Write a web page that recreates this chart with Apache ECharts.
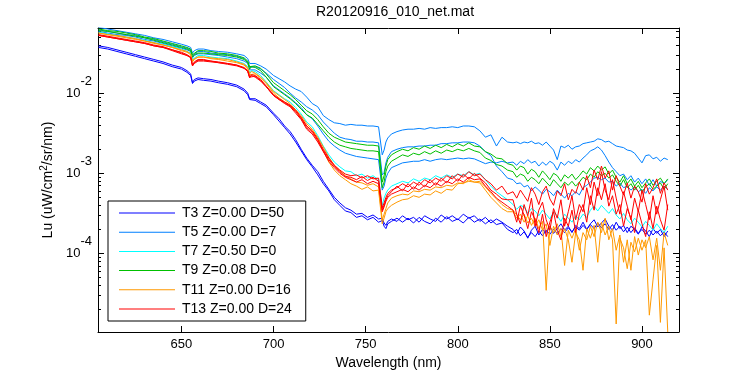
<!DOCTYPE html>
<html><head><meta charset="utf-8">
<script src="https://cdn.jsdelivr.net/npm/echarts@6/dist/echarts.min.js"></script>
<style>html,body{margin:0;padding:0;background:#fff}#c{width:750px;height:375px}</style>
</head><body><div id="c"></div>
<script>
// Wavelength grid (nm)
const wl = [605,610,615,620,625,630,635,640,645,650,
653,655,656,657,659,662,666,670,675,680,684,686,687,688,690,693,696,700,
703,706,709,712,715,718,721,724,727,730,733,736,739,742,745,748,751,754,757,
759,760,761,762,764,
767,770,773,776,779,782,785,788,791,794,797,800,803,806,809,812,815,818,821,824,827,
830,832,834,836,838,840,842,844,846,848,850,852,854,856,858,860,862,864,866,868,870,872,874,876,878,880,882,884,886,888,890,892,894,896,898,900,902,904,906,908,910,912,914];

// log10 of Lu (uW/cm^2/sr/nm)
const T3a = [-1.41,-1.43,-1.46,-1.49,-1.52,-1.55,-1.58,-1.61,-1.65,-1.68,
-1.72,-1.76,-1.87,-1.83,-1.81,-1.82,-1.83,-1.85,-1.87,-1.90,-1.95,-2.00,-2.07,-2.06,-2.07,-2.11,-2.15,-2.25,
-2.32,-2.41,-2.48,-2.58,-2.70,-2.81,-2.90,-2.98,-3.10,-3.20,-3.30,-3.37,-3.43,-3.46,-3.51,-3.50,-3.55,-3.52,-3.57,
-3.56,-3.62,-3.65,-3.60,-3.57,
-3.60,-3.53,-3.58,-3.55,-3.61,-3.53,-3.57,-3.60,-3.52,-3.57,-3.53,-3.58,-3.51,-3.56,-3.53,-3.60,-3.55,-3.62,-3.57,-3.61,-3.66,
-3.70,-3.76,-3.67,-3.72,-3.81,-3.71,-3.66,-3.77,-3.70,-3.74,-3.66,-3.75,-3.69,-3.63,-3.71,-3.66,-3.74,-3.65,-3.69,-3.61,-3.70,-3.63,-3.58,-3.67,-3.62,-3.57,-3.66,-3.71,-3.61,-3.69,-3.65,-3.74,-3.66,-3.70,-3.76,-3.67,-3.72,-3.79,-3.69,-3.75,-3.70,-3.79,-3.72];
const T3b = [-1.43,-1.45,-1.48,-1.51,-1.54,-1.57,-1.60,-1.63,-1.67,-1.70,
-1.74,-1.78,-1.88,-1.85,-1.83,-1.84,-1.85,-1.87,-1.89,-1.92,-1.97,-2.02,-2.08,-2.08,-2.09,-2.13,-2.17,-2.27,
-2.35,-2.43,-2.51,-2.61,-2.72,-2.83,-2.92,-3.02,-3.13,-3.22,-3.33,-3.40,-3.47,-3.49,-3.55,-3.53,-3.58,-3.55,-3.61,
-3.59,-3.66,-3.69,-3.63,-3.60,
-3.56,-3.61,-3.56,-3.62,-3.55,-3.60,-3.63,-3.56,-3.61,-3.54,-3.60,-3.57,-3.62,-3.55,-3.61,-3.57,-3.63,-3.58,-3.64,-3.62,-3.70,
-3.74,-3.70,-3.78,-3.73,-3.80,-3.74,-3.79,-3.72,-3.78,-3.71,-3.76,-3.70,-3.75,-3.69,-3.74,-3.68,-3.73,-3.67,-3.71,-3.65,-3.70,-3.64,-3.69,-3.62,-3.68,-3.63,-3.70,-3.64,-3.71,-3.66,-3.73,-3.67,-3.74,-3.68,-3.75,-3.70,-3.76,-3.71,-3.77,-3.72,-3.78,-3.73,-3.79];
const T5a = [-1.18,-1.20,-1.22,-1.24,-1.26,-1.28,-1.31,-1.33,-1.36,-1.39,
-1.41,-1.43,-1.50,-1.47,-1.45,-1.45,-1.47,-1.48,-1.49,-1.51,-1.53,-1.57,-1.63,-1.62,-1.63,-1.66,-1.70,-1.78,
-1.82,-1.86,-1.91,-1.95,-1.98,-2.05,-2.13,-2.17,-2.28,-2.33,-2.37,-2.38,-2.40,-2.39,-2.40,-2.40,-2.41,-2.41,-2.42,
-2.77,-2.71,-2.61,-2.56,-2.51,
-2.48,-2.46,-2.45,-2.45,-2.44,-2.45,-2.43,-2.44,-2.43,-2.43,-2.42,-2.43,-2.41,-2.41,-2.42,-2.47,-2.55,-2.52,-2.66,-2.55,-2.61,
-2.62,-2.61,-2.63,-2.61,-2.62,-2.60,-2.63,-2.62,-2.65,-2.61,-2.66,-2.71,-2.83,-2.66,-2.68,-2.65,-2.70,-2.67,-2.66,-2.63,-2.62,-2.61,-2.60,-2.57,-2.58,-2.61,-2.60,-2.63,-2.66,-2.67,-2.68,-2.71,-2.72,-2.75,-2.81,-2.87,-2.78,-2.77,-2.82,-2.80,-2.85,-2.81,-2.83];
const T5c = [-1.21,-1.23,-1.25,-1.27,-1.28,-1.31,-1.33,-1.36,-1.39,-1.42,
-1.44,-1.46,-1.53,-1.51,-1.48,-1.48,-1.50,-1.51,-1.52,-1.54,-1.57,-1.61,-1.68,-1.66,-1.67,-1.70,-1.75,-1.83,
-1.88,-1.93,-2.00,-2.06,-2.11,-2.17,-2.21,-2.27,-2.36,-2.43,-2.50,-2.55,-2.57,-2.58,-2.60,-2.60,-2.61,-2.61,-2.62,
-3.02,-2.99,-2.87,-2.80,-2.73,
-2.70,-2.68,-2.67,-2.67,-2.66,-2.66,-2.65,-2.65,-2.63,-2.63,-2.62,-2.62,-2.61,-2.61,-2.62,-2.66,-2.73,-2.78,-2.91,-2.98,-3.06,
-3.08,-3.13,-3.12,-3.17,-3.15,-3.22,-3.17,-3.21,-3.26,-3.20,-3.23,-3.28,-3.21,-3.26,-3.31,-3.25,-3.28,-3.23,-3.27,-3.18,-3.15,-3.11,-3.06,-3.05,-3.08,-3.06,-3.11,-3.10,-3.16,-3.12,-3.18,-3.16,-3.21,-3.17,-3.23,-3.20,-3.25,-3.18,-3.22,-3.17,-3.21,-3.16,-3.20];
const T5b = [-1.23,-1.25,-1.27,-1.28,-1.30,-1.33,-1.35,-1.38,-1.41,-1.44,
-1.46,-1.48,-1.56,-1.53,-1.51,-1.51,-1.52,-1.53,-1.55,-1.57,-1.60,-1.63,-1.71,-1.70,-1.71,-1.75,-1.80,-1.91,
-1.96,-2.01,-2.06,-2.12,-2.18,-2.27,-2.32,-2.41,-2.51,-2.60,-2.66,-2.71,-2.75,-2.77,-2.79,-2.80,-2.81,-2.82,-2.83,
-3.21,-3.16,-3.06,-3.00,-2.93,
-2.90,-2.87,-2.86,-2.85,-2.85,-2.83,-2.85,-2.83,-2.82,-2.83,-2.82,-2.81,-2.82,-2.81,-2.82,-2.85,-2.88,-2.86,-2.87,-2.85,-2.87,
-2.86,-2.90,-2.85,-2.88,-2.83,-2.87,-2.85,-2.91,-2.86,-2.90,-2.85,-2.88,-2.96,-2.86,-2.90,-2.85,-2.88,-2.83,-2.86,-2.81,-2.77,-2.72,-2.70,-2.67,-2.71,-2.78,-2.86,-2.93,-2.98,-3.03,-3.01,-3.08,-3.03,-3.11,-3.06,-3.13,-3.07,-3.15,-3.08,-3.16,-3.10,-3.13,-3.08];
const T7 = [-1.24,-1.26,-1.28,-1.30,-1.32,-1.34,-1.37,-1.39,-1.42,-1.45,
-1.48,-1.50,-1.58,-1.56,-1.53,-1.53,-1.55,-1.56,-1.57,-1.60,-1.63,-1.67,-1.75,-1.72,-1.73,-1.78,-1.86,-1.97,
-2.02,-2.07,-2.11,-2.18,-2.26,-2.36,-2.42,-2.53,-2.66,-2.77,-2.86,-2.92,-2.97,-2.98,-3.03,-3.01,-3.06,-3.03,-3.08,
-3.40,-3.31,-3.25,-3.21,-3.16,
-3.13,-3.10,-3.12,-3.07,-3.10,-3.06,-3.08,-3.03,-3.06,-3.02,-3.05,-3.01,-3.03,-2.98,-3.02,-3.00,-3.08,-3.16,-3.23,-3.28,-3.33,
-3.39,-3.45,-3.40,-3.42,-3.50,-3.44,-3.47,-3.53,-3.46,-3.51,-3.57,-3.48,-3.53,-3.60,-3.51,-3.56,-3.61,-3.53,-3.58,-3.51,-3.55,-3.46,-3.41,-3.47,-3.40,-3.45,-3.50,-3.44,-3.52,-3.57,-3.50,-3.58,-3.63,-3.56,-3.61,-3.67,-3.60,-3.65,-3.71,-3.63,-3.69,-3.74,-3.66];
const T9a = [-1.20,-1.22,-1.23,-1.25,-1.27,-1.30,-1.32,-1.35,-1.38,-1.41,
-1.43,-1.45,-1.52,-1.50,-1.47,-1.47,-1.48,-1.50,-1.51,-1.53,-1.56,-1.60,-1.67,-1.65,-1.66,-1.69,-1.76,-1.87,
-1.92,-1.97,-2.02,-2.08,-2.15,-2.22,-2.26,-2.33,-2.42,-2.50,-2.55,-2.58,-2.61,-2.62,-2.63,-2.64,-2.65,-2.65,-2.66,
-3.11,-3.03,-2.91,-2.83,-2.77,
-2.73,-2.70,-2.72,-2.68,-2.70,-2.66,-2.69,-2.65,-2.68,-2.64,-2.67,-2.63,-2.66,-2.62,-2.66,-2.67,-2.73,-2.76,-2.81,-2.82,-2.88,
-2.90,-2.96,-2.91,-2.93,-3.01,-2.95,-2.98,-3.05,-2.97,-3.02,-3.08,-3.00,-3.03,-3.10,-3.02,-3.06,-3.01,-3.08,-3.03,-2.97,-3.01,-2.93,-2.97,-2.91,-2.96,-2.92,-3.01,-2.96,-3.05,-3.11,-3.03,-3.13,-3.07,-3.16,-3.10,-3.18,-3.12,-3.07,-3.15,-3.10,-3.06,-3.13,-3.07];
const T9b = [-1.22,-1.23,-1.25,-1.27,-1.29,-1.31,-1.34,-1.37,-1.40,-1.43,
-1.45,-1.47,-1.55,-1.52,-1.50,-1.50,-1.51,-1.52,-1.53,-1.55,-1.58,-1.62,-1.70,-1.67,-1.68,-1.72,-1.80,-1.92,
-1.97,-2.02,-2.07,-2.13,-2.20,-2.27,-2.31,-2.39,-2.47,-2.55,-2.61,-2.65,-2.67,-2.69,-2.70,-2.71,-2.72,-2.72,-2.73,
-3.18,-3.11,-2.98,-2.91,-2.85,
-2.81,-2.77,-2.79,-2.75,-2.77,-2.73,-2.76,-2.72,-2.75,-2.71,-2.73,-2.70,-2.72,-2.69,-2.72,-2.74,-2.81,-2.84,-2.89,-2.91,-2.96,
-2.98,-3.05,-3.01,-3.03,-3.10,-3.05,-3.08,-3.13,-3.06,-3.11,-3.16,-3.08,-3.13,-3.18,-3.11,-3.15,-3.10,-3.16,-3.11,-3.05,-3.08,-3.01,-3.05,-2.98,-3.03,-3.00,-3.06,-3.02,-3.10,-3.16,-3.08,-3.18,-3.13,-3.21,-3.15,-3.23,-3.17,-3.13,-3.20,-3.16,-3.12,-3.20,-3.13];
const T11a = [-1.25,-1.27,-1.29,-1.31,-1.33,-1.35,-1.38,-1.40,-1.43,-1.47,
-1.49,-1.52,-1.61,-1.58,-1.55,-1.55,-1.57,-1.58,-1.60,-1.62,-1.65,-1.70,-1.77,-1.75,-1.76,-1.81,-1.88,-2.00,
-2.06,-2.11,-2.15,-2.22,-2.31,-2.41,-2.47,-2.58,-2.72,-2.86,-2.96,-3.03,-3.08,-3.13,-3.16,-3.20,-3.17,-3.22,-3.21,
-3.63,-3.56,-3.48,-3.44,-3.40,
-3.36,-3.33,-3.32,-3.28,-3.30,-3.26,-3.27,-3.22,-3.25,-3.20,-3.21,-3.13,-3.12,-3.10,-3.11,-3.12,-3.21,-3.30,-3.37,-3.44,-3.48,
-3.48,-3.56,-3.51,-3.61,-3.53,-3.65,-3.56,-3.69,-3.60,-4.46,-3.66,-3.74,-3.63,-3.79,-3.69,-3.83,-4.11,-3.74,-3.83,-4.21,-3.69,-3.81,-3.65,-4.11,-3.61,-3.77,-3.66,-3.83,-4.88,-3.81,-3.93,-4.19,-3.86,-3.98,-3.81,-3.96,-3.83,-4.77,-4.33,-3.90,-4.86,-3.93,-4.98];
const T11b = [-1.25,-1.27,-1.28,-1.30,-1.32,-1.35,-1.37,-1.40,-1.43,-1.46,
-1.48,-1.51,-1.60,-1.57,-1.55,-1.55,-1.56,-1.57,-1.58,-1.61,-1.64,-1.68,-1.76,-1.73,-1.75,-1.80,-1.87,-1.98,
-2.03,-2.08,-2.13,-2.21,-2.28,-2.38,-2.45,-2.55,-2.67,-2.80,-2.90,-2.97,-3.03,-3.07,-3.11,-3.12,-3.15,-3.13,-3.17,
-3.58,-3.51,-3.44,-3.37,-3.31,
-3.28,-3.26,-3.27,-3.22,-3.23,-3.20,-3.21,-3.17,-3.18,-3.15,-3.16,-3.12,-3.13,-3.08,-3.11,-3.10,-3.17,-3.25,-3.32,-3.39,-3.44,
-3.46,-3.52,-3.58,-3.51,-3.62,-3.56,-3.66,-3.58,-3.71,-3.63,-3.90,-3.66,-3.77,-3.69,-4.15,-3.71,-3.81,-3.69,-3.96,-3.74,-3.83,-3.66,-3.79,-3.61,-3.74,-3.56,-3.83,-3.69,-3.96,-3.77,-4.11,-3.83,-4.21,-3.79,-4.02,-3.83,-3.93,-3.79,-4.08,-3.81,-4.21,-3.74,-3.90];
const T13a = [-1.27,-1.29,-1.31,-1.33,-1.35,-1.37,-1.40,-1.42,-1.46,-1.49,
-1.52,-1.55,-1.65,-1.61,-1.58,-1.58,-1.60,-1.61,-1.63,-1.65,-1.68,-1.72,-1.80,-1.77,-1.78,-1.83,-1.91,-2.02,
-2.07,-2.11,-2.15,-2.21,-2.30,-2.41,-2.47,-2.57,-2.70,-2.81,-2.90,-2.96,-3.01,-3.03,-3.02,-3.06,-3.03,-3.07,-3.06,
-3.43,-3.37,-3.30,-3.25,-3.21,
-3.18,-3.13,-3.17,-3.11,-3.15,-3.08,-3.12,-3.06,-3.10,-3.03,-3.07,-3.01,-3.05,-2.98,-3.03,-3.01,-3.08,-3.13,-3.21,-3.16,-3.26,
-3.23,-3.31,-3.21,-3.28,-3.35,-3.18,-3.26,-3.39,-3.23,-3.16,-3.32,-3.40,-3.22,-3.28,-3.13,-3.33,-3.20,-3.25,-3.11,-3.21,-3.03,-3.18,-2.96,-3.08,-2.91,-3.06,-2.97,-3.21,-3.03,-3.16,-3.27,-3.12,-3.31,-3.16,-3.23,-3.36,-3.13,-3.26,-3.18,-3.07,-3.25,-3.12,-3.21];
const T13b = [-1.28,-1.30,-1.32,-1.34,-1.36,-1.38,-1.41,-1.43,-1.47,-1.51,
-1.53,-1.56,-1.66,-1.63,-1.60,-1.60,-1.61,-1.62,-1.64,-1.66,-1.69,-1.73,-1.81,-1.78,-1.80,-1.85,-1.92,-2.03,
-2.08,-2.13,-2.17,-2.25,-2.33,-2.45,-2.51,-2.61,-2.73,-2.85,-2.93,-3.00,-3.05,-3.08,-3.11,-3.08,-3.13,-3.10,-3.13,
-3.48,-3.42,-3.35,-3.30,-3.26,
-3.23,-3.20,-3.23,-3.17,-3.21,-3.15,-3.18,-3.12,-3.16,-3.10,-3.13,-3.07,-3.11,-3.05,-3.08,-3.07,-3.16,-3.23,-3.31,-3.36,-3.41,
-3.46,-3.61,-3.41,-3.52,-3.69,-3.48,-3.58,-3.74,-3.51,-3.79,-3.61,-3.48,-3.71,-3.83,-3.56,-3.66,-3.46,-3.74,-3.51,-3.39,-3.61,-3.28,-3.46,-3.18,-3.33,-3.13,-3.41,-3.28,-3.51,-3.39,-3.66,-3.44,-3.56,-3.74,-3.46,-3.63,-3.79,-3.48,-3.69,-3.41,-3.58,-3.71,-3.39];
const T13c = [-1.28,-1.30,-1.32,-1.34,-1.36,-1.38,-1.41,-1.43,-1.46,-1.50,
-1.53,-1.55,-1.66,-1.62,-1.59,-1.59,-1.60,-1.62,-1.63,-1.65,-1.69,-1.73,-1.80,-1.78,-1.79,-1.84,-1.92,-2.03,
-2.08,-2.12,-2.16,-2.23,-2.32,-2.43,-2.49,-2.59,-2.72,-2.83,-2.91,-2.98,-3.04,-3.05,-3.08,-3.04,-3.09,-3.05,-3.10,
-3.46,-3.40,-3.33,-3.28,-3.23,
-3.16,-3.22,-3.13,-3.20,-3.11,-3.17,-3.08,-3.15,-3.06,-3.12,-3.03,-3.10,-3.01,-3.07,-3.00,-3.06,-3.12,-3.21,-3.26,-3.32,-3.33,
-3.33,-3.51,-3.63,-3.39,-3.53,-3.31,-3.66,-3.46,-3.36,-3.58,-3.71,-3.44,-3.56,-3.33,-3.66,-3.48,-3.28,-3.58,-3.39,-3.48,-3.18,-3.39,-3.11,-3.28,-2.98,-3.21,-3.33,-3.08,-3.31,-3.51,-3.23,-3.41,-3.58,-3.31,-3.48,-3.21,-3.39,-3.58,-3.28,-3.51,-3.33,-3.16,-3.46];

const legendNames = ['T3 Z=0.00 D=50','T5 Z=0.00 D=7','T7 Z=0.50 D=0','T9 Z=0.08 D=0','T11 Z=0.00 D=16','T13 Z=0.00 D=24'];
const xTicks = [650,700,750,800,850,900];
const yTickExp = [-4,-3,-2];

const FONT = '"Liberation Sans", Arial, Helvetica, sans-serif';
const X_MIN = 604.7, X_MAX = 920.1, Y_MIN = -4.98, Y_MAX = -1.1875;
const C = {T3:'#0000ff', T5:'#0080ff', T7:'#00ffff', T9:'#00c000', T11:'#ff9900', T13:'#ff0000'};

const yMinor = [];
for (let e = -5; e <= -2; e++) for (let k = 2; k <= 9; k++) {
  const v = e + Math.log10(k);
  if (v > Y_MIN && v < Y_MAX) yMinor.push(v);
}

const lines = [
  [legendNames[0], C.T3, T3a], [legendNames[0], C.T3, T3b],
  [legendNames[1], C.T5, T5a], [legendNames[1], C.T5, T5c], [legendNames[1], C.T5, T5b],
  [legendNames[2], C.T7, T7],
  [legendNames[3], C.T9, T9a], [legendNames[3], C.T9, T9b],
  [legendNames[4], C.T11, T11a], [legendNames[4], C.T11, T11b],
  [legendNames[5], C.T13, T13a], [legendNames[5], C.T13, T13b], [legendNames[5], C.T13, T13c]
];

const black = {color:'#000', width:1};
function yAx(pos, ticks, len, showLine, showLabel) {
  return {
    type:'value', position:pos, min:Y_MIN, max:Y_MAX, scale:true,
    axisLine:{show:showLine, onZero:false, lineStyle:black},
    splitLine:{show:false},
    axisTick:{show:true, inside:true, length:len, customValues:ticks, lineStyle:black},
    axisLabel:{show:showLabel, customValues:yTickExp, margin:6,
      formatter: v => '{b|10}{s|' + Math.round(v) + '}',
      rich:{ b:{fontSize:13, fontFamily:FONT, color:'#000'},
             s:{fontSize:13, fontFamily:FONT, color:'#000', padding:[0,0,24,0]} } }
  };
}
function xAx(pos, showLabel, name) {
  return {
    type:'value', position:pos, min:X_MIN, max:X_MAX,
    name: name || '', nameLocation:'middle', nameGap:24,
    nameTextStyle:{fontSize:14, fontFamily:FONT, color:'#000'},
    axisLine:{show:true, onZero:false, lineStyle:black},
    splitLine:{show:false},
    axisTick:{show:true, inside:true, length:6, customValues:xTicks, lineStyle:black},
    axisLabel:{show:showLabel, customValues:xTicks, margin:6, fontSize:13, fontFamily:FONT, color:'#000'}
  };
}

const yMain = yAx('left', yTickExp, 6, true, true);
yMain.name = 'Lu (uW/cm{sup|2}/sr/nm)';
yMain.nameLocation = 'middle';
yMain.nameGap = 36;
yMain.nameTextStyle = {fontSize:14, fontFamily:FONT, color:'#000',
  rich:{sup:{fontSize:10, fontFamily:FONT, color:'#000', padding:[0,0,8,0]}}};

// thin line legend icon (tiny corner specks fix the 56x14 bounding box)
const lineIcon = 'path://M0,0H0.01V0.01H0Z M0,6.5H56V7.5H0Z M55.99,13.99H56V14H55.99Z';

const option = {
  animation:false,
  backgroundColor:'#fff',
  title:{text:'R20120916_010_net.mat', left:316, top:5, padding:0,
    textStyle:{fontSize:14, fontWeight:'normal', fontFamily:FONT, color:'#000'}},
  grid:{left:98, right:71, top:28, bottom:43, containLabel:false},
  legend:{data:legendNames.map(n => ({name:n, icon:lineIcon})), orient:'vertical', left:108, top:201,
    padding:[5,14,5,11], itemWidth:56, itemHeight:14, itemGap:5.2,
    backgroundColor:'#fff', borderColor:'#000', borderWidth:1, borderRadius:0,
    selectedMode:false,
    textStyle:{fontSize:14, fontFamily:FONT, color:'#000', padding:[0,0,0,2]}},
  xAxis:[xAx('bottom', true, 'Wavelength (nm)'), xAx('top', false)],
  yAxis:[yMain, yAx('left', yMinor, 3, false, false),
         yAx('right', yTickExp, 6, true, false), yAx('right', yMinor, 3, false, false)],
  series: lines.map(([name, color, arr]) => ({
    type:'line', name, xAxisIndex:0, yAxisIndex:0,
    symbol:'none', showSymbol:false, silent:true, clip:true,
    lineStyle:{color, width:1}, itemStyle:{color},
    data: wl.map((w, i) => [w, arr[i]]).filter(p => p[1] !== undefined)
  }))
};

const chart = echarts.init(document.getElementById('c'), null, {renderer:'canvas'});
chart.setOption(option);
</script></body></html>
